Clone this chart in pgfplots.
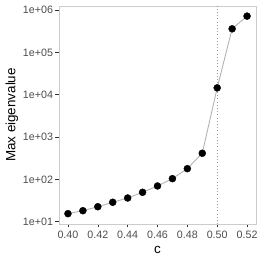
\documentclass[border=0pt]{standalone}
\usepackage{fontspec}
\setmainfont{Liberation Sans}
\usepackage{pgfplots}
\pgfplotsset{compat=1.18}
\definecolor{framegray}{HTML}{CCCCCC}
\definecolor{tickgray}{HTML}{333333}
\definecolor{labgray}{HTML}{4D4D4D}
\definecolor{linegray}{HTML}{B3B3B3}
\definecolor{vgray}{HTML}{999999}
\begin{document}
\begin{tikzpicture}
\useasboundingbox (-59bp,-39bp) rectangle (204bp,224bp);
\begin{axis}[
  at={(0,0)}, anchor=south west,
  scale only axis, width=197bp, height=218bp,
  ymode=log,
  xmin=0.394, xmax=0.526,
  ymin=8.83, ymax=1.245e6,
  axis line style={framegray, line width=0.8bp},
  xtick={0.40,0.42,0.44,0.46,0.48,0.50,0.52},
  xticklabels={0.40,0.42,0.44,0.46,0.48,0.50,0.52},
  ytick={10,100,1000,10000,100000,1000000},
  yticklabels={1e+01,1e+02,1e+03,1e+04,1e+05,1e+06},
  minor tick num=0,
  yminorticks=false,
  tick align=outside,
  major tick length=3.5bp,
  tick style={tickgray, line width=0.6bp},
  xtick pos=bottom, ytick pos=left,
  ticklabel style={font=\fontsize{10.7bp}{12bp}\selectfont, text=labgray},
  xticklabel style={yshift=0bp},
  yticklabel style={xshift=1bp},
  xlabel={c}, ylabel={Max eigenvalue},
  label style={font=\fontsize{13.4bp}{15bp}\selectfont},
  xlabel style={yshift=-1bp},
  ylabel style={yshift=-2bp},
  clip=false,
]
\addplot[vgray, dash pattern=on 0.8bp off 2.4bp, line width=0.8bp, forget plot] coordinates {(0.50,8.83) (0.50,1.245e6)};
\addplot[linegray, line width=0.9bp, mark=*, mark size=3.5bp,
  mark options={fill=black, draw=black, line width=0.4bp}] coordinates {
(0.40,15.5)
(0.41,18.2)
(0.42,22.6)
(0.43,28.8)
(0.44,36.3)
(0.45,49.5)
(0.46,69.8)
(0.47,104)
(0.48,179)
(0.49,414)
(0.50,14500)
(0.51,360000)
(0.52,718000)
};
\end{axis}
\end{tikzpicture}
\end{document}
